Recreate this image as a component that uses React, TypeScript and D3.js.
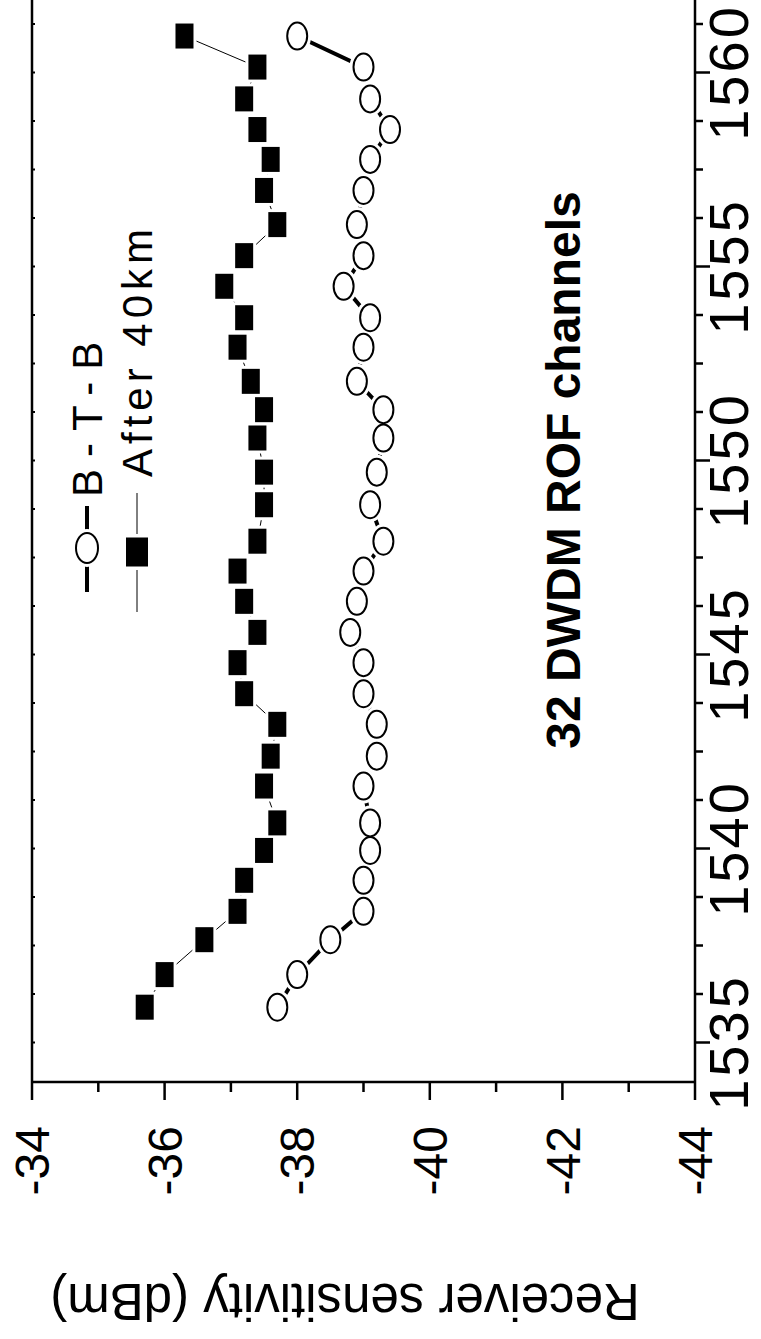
import React from 'react';
import * as d3 from 'd3';

// Channel wavelengths (nm)
const wavelengths = [
  1535.91, 1536.75, 1537.65, 1538.38, 1539.18, 1539.95, 1540.66, 1541.61,
  1542.38, 1543.2, 1543.99, 1544.79, 1545.57, 1546.37, 1547.15, 1547.92,
  1548.86, 1549.7, 1550.58, 1551.31, 1552.04, 1552.92, 1553.68, 1554.49,
  1555.28, 1556.08, 1556.96, 1557.76, 1558.53, 1559.32, 1560.14, 1560.94,
];
// Receiver sensitivity (dBm), back-to-back
const btb = [
  -37.7, -38.0, -38.5, -39.0, -39.0, -39.1, -39.1, -39.0,
  -39.2, -39.2, -39.0, -39.0, -38.8, -38.9, -39.0, -39.3,
  -39.1, -39.2, -39.3, -39.3, -38.9, -39.0, -39.1, -38.7,
  -39.0, -38.9, -39.0, -39.1, -39.4, -39.1, -39.0, -38.0,
];
// Receiver sensitivity (dBm), after 40 km
const after40 = [
  -35.7, -36.0, -36.6, -37.1, -37.2, -37.5, -37.7, -37.5,
  -37.6, -37.7, -37.2, -37.1, -37.4, -37.2, -37.1, -37.4,
  -37.5, -37.5, -37.4, -37.5, -37.3, -37.1, -37.2, -36.9,
  -37.2, -37.7, -37.5, -37.6, -37.4, -37.2, -37.4, -36.3,
];
const sensTicks = [-34, -36, -38, -40, -42, -44];
const wlTicks = [1535, 1540, 1545, 1550, 1555, 1560];
const legendLabels = ['B-T-B', 'After 40km'];
const annotation = '32 DWDM ROF channels';
const sensTitle = 'Receiver sensitivity (dBm)';

const FONT = '"Liberation Sans", Arial, Helvetica, sans-serif';

export default function App() {
  const W = 761;
  const H = 1339;
  const left = 32;
  const right = 695;
  const bottom = 1082;

  // value axis runs horizontally (chart is rotated -90deg)
  const v = d3.scaleLinear().domain([-34, -44]).range([left, right]);
  // wavelength axis runs vertically, increasing upward
  const wl = d3.scaleLinear().domain([1535, 1560]).range([1042.5, 72.5]);

  const minorSens = d3.range(-34, -44.5, -1);
  const wlAll = d3.range(1533.75, 1562.6, 1.25).filter((t) => wl(t) < bottom - 2 && wl(t) > 0);

  const lineGen = (vals: number[]) =>
    d3
      .line<number>()
      .x((d) => v(d))
      .y((_, i) => wl(wavelengths[i]))(vals) as string;

  const sqW = 18;
  const sqH = 25;
  const cRx = 10;
  const cRy = 13.5;

  const sensFs = 48;
  const wlFs = 56;

  return (
    <svg
      width={W}
      height={H}
      viewBox={`0 0 ${W} ${H}`}
      style={{ position: 'absolute', left: 0, top: 0, background: '#fff' }}
      fontFamily={FONT}
    >
      <rect x={0} y={0} width={W} height={H} fill="#fff" />

      {/* series lines */}
      <path d={lineGen(after40)} fill="none" stroke="#000" strokeWidth={1} />
      <path d={lineGen(btb)} fill="none" stroke="#000" strokeWidth={4} />

      {/* halos to create gaps between line and symbols */}
      {after40.map((d, i) => (
        <rect
          key={`sh${i}`}
          x={v(d) - sqW / 2 - 3}
          y={wl(wavelengths[i]) - sqH / 2 - 3}
          width={sqW + 6}
          height={sqH + 6}
          fill="#fff"
        />
      ))}
      {btb.map((d, i) => (
        <ellipse
          key={`ch${i}`}
          cx={v(d)}
          cy={wl(wavelengths[i])}
          rx={cRx + 4}
          ry={cRy + 4}
          fill="#fff"
        />
      ))}

      {/* markers */}
      {after40.map((d, i) => (
        <rect
          key={`s${i}`}
          x={v(d) - sqW / 2}
          y={wl(wavelengths[i]) - sqH / 2}
          width={sqW}
          height={sqH}
          fill="#000"
        />
      ))}
      {btb.map((d, i) => (
        <ellipse
          key={`c${i}`}
          cx={v(d)}
          cy={wl(wavelengths[i])}
          rx={cRx}
          ry={cRy}
          fill="#fff"
          stroke="#000"
          strokeWidth={2}
        />
      ))}

      {/* frame */}
      <line x1={left} y1={0} x2={left} y2={bottom} stroke="#000" strokeWidth={2.5} />
      <line x1={right} y1={0} x2={right} y2={bottom} stroke="#000" strokeWidth={2.5} />
      <line x1={left} y1={bottom} x2={right} y2={bottom} stroke="#000" strokeWidth={2.5} />

      {/* sensitivity ticks (bottom, outward) */}
      {minorSens.map((t) => {
        const major = Math.round(t) % 2 === 0;
        return (
          <line
            key={`st${t}`}
            x1={v(t)}
            x2={v(t)}
            y1={bottom}
            y2={bottom + (major ? 18 : 10)}
            stroke="#000"
            strokeWidth={2.5}
          />
        );
      })}
      {sensTicks.map((t) => (
        <text
          key={`sl${t}`}
          transform={`translate(${v(t) + sensFs * 0.358},1126) rotate(-90)`}
          textAnchor="end"
          fontSize={sensFs}
        >
          {String(t)}
        </text>
      ))}

      {/* wavelength ticks (right, outward; left, small inward) */}
      {wlAll.map((t) => {
        const major = Math.abs((t - 1535) / 5 - Math.round((t - 1535) / 5)) < 1e-6;
        return (
          <g key={`wt${t}`}>
            <line
              x1={right}
              x2={right + (major ? 15 : 8)}
              y1={wl(t)}
              y2={wl(t)}
              stroke="#000"
              strokeWidth={2.5}
            />
            <line x1={left} x2={left + 3} y1={wl(t)} y2={wl(t)} stroke="#000" strokeWidth={2} />
          </g>
        );
      })}
      {wlTicks.map((t) => (
        <text
          key={`wl${t}`}
          transform={`translate(748,${wl(t)}) rotate(-90)`}
          textAnchor="middle"
          fontSize={wlFs}
          letterSpacing={3}
        >
          {String(t)}
        </text>
      ))}

      {/* axis title (rotated 180deg) */}
      <text transform="translate(345,1284) rotate(180)" textAnchor="middle" fontSize={51}>
        {sensTitle}
      </text>

      {/* legend */}
      <g>
        <line x1={87} x2={87} y1={506} y2={592} stroke="#000" strokeWidth={4} />
        <ellipse cx={87} cy={548} rx={15} ry={19} fill="#fff" />
        <ellipse cx={87} cy={548} rx={11} ry={15} fill="#fff" stroke="#000" strokeWidth={2} />
        <text transform="translate(102,497) rotate(-90)" fontSize={42} letterSpacing={12}>
          {legendLabels[0]}
        </text>

        <line x1={137} x2={137} y1={493} y2={612} stroke="#000" strokeWidth={1} />
        <rect x={137 - 14} y={552 - 18} width={28} height={36} fill="#fff" />
        <rect x={137 - 11} y={552 - 14.5} width={22} height={29} fill="#000" />
        <text transform="translate(152,477) rotate(-90)" fontSize={42} letterSpacing={5}>
          {legendLabels[1]}
        </text>
      </g>

      {/* annotation */}
      <text
        transform="translate(580,470) rotate(-90)"
        textAnchor="middle"
        fontSize={48}
        fontWeight="bold"
      >
        {annotation}
      </text>
    </svg>
  );
}
